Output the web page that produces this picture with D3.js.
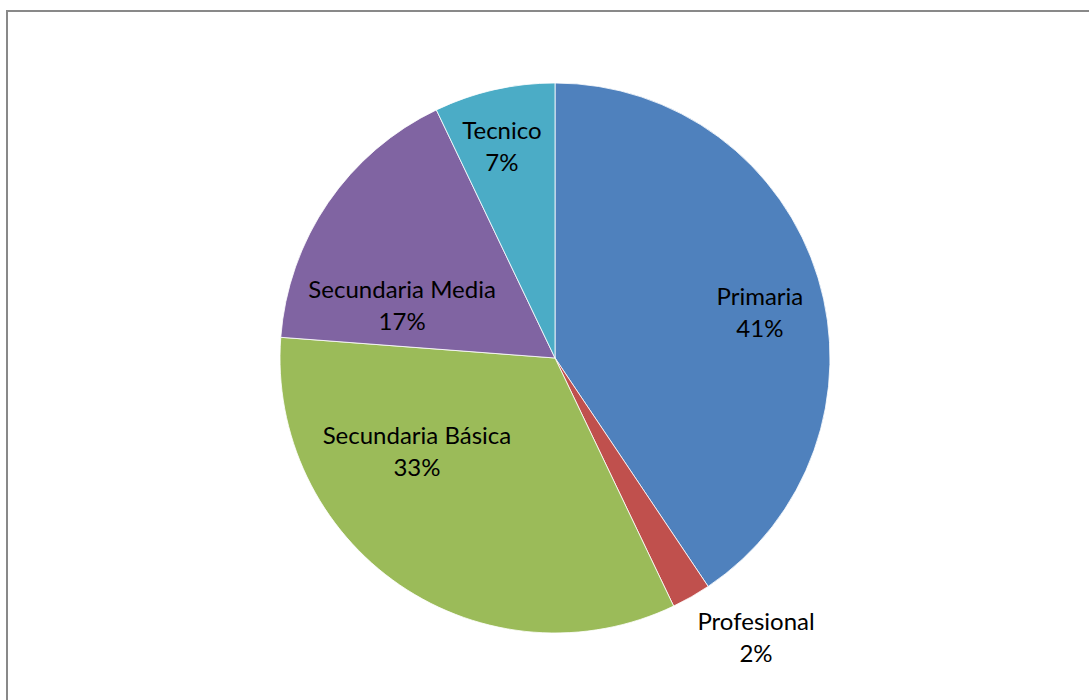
<!DOCTYPE html>
<head>
<meta charset="utf-8">
<script src="https://d3js.org/d3.v7.min.js"></script>
</head>
<body style="margin:0;background:#fff">
<style>
  * { font-family: Lato, "Open Sans", sans-serif; }
</style>
<div id="viz"></div>
<script>

// data (Excel rounds the labels)
var categories = ["Primaria", "Profesional", "Secundaria Básica", "Secundaria Media", "Tecnico"];
var values = [40.6, 2.3, 33.3, 16.7, 7.1];
var pctLabels = ["41%", "2%", "33%", "17%", "7%"];
var colors = ["#4F81BD", "#C0504D", "#9BBB59", "#8064A2", "#4BACC6"];

// label anchor offsets from centre, as fraction of radius (layout only)
var labelOffsets = [[0.745, -0.167], [0.731, 1.015], [-0.502, 0.338], [-0.556, -0.193], [-0.193, -0.771]];

var width = 1089, height = 700,
    cx = 555, cy = 358, radius = 275;

var svg = d3.select("#viz")
  .append("svg")
    .attr("width", width)
    .attr("height", height);

// chart area frame
svg.append("rect")
  .attr("x", 7)
  .attr("y", 11)
  .attr("width", 1100)
  .attr("height", 720)
  .attr("fill", "#fff")
  .attr("stroke", "#898989")
  .attr("stroke-width", 2);

var g = svg.append("g")
  .attr("transform", "translate(" + cx + "," + cy + ")");

var pie = d3.pie().sort(null).value(function(d) { return d; });
var arc = d3.arc().innerRadius(0).outerRadius(radius);

var arcs = pie(values);

g.selectAll("path")
  .data(arcs)
  .enter().append("path")
    .attr("d", arc)
    .attr("fill", function(d, i) { return colors[i]; })
    .attr("stroke", "#fff")
    .attr("stroke-width", 0.8);

var labels = g.selectAll("text.lbl")
  .data(arcs)
  .enter().append("text")
    .attr("class", "lbl")
    .attr("text-anchor", "middle")
    .style("font-size", "24px")
    .attr("fill", "#000")
    .attr("transform", function(d, i) {
      return "translate(" + (labelOffsets[i][0] * radius) + "," + (labelOffsets[i][1] * radius) + ")";
    });

labels.append("tspan")
  .attr("x", 0)
  .attr("y", -7)
  .text(function(d, i) { return categories[i]; });
labels.append("tspan")
  .attr("x", 0)
  .attr("y", 25)
  .text(function(d, i) { return pctLabels[i]; });

</script>
</body>
